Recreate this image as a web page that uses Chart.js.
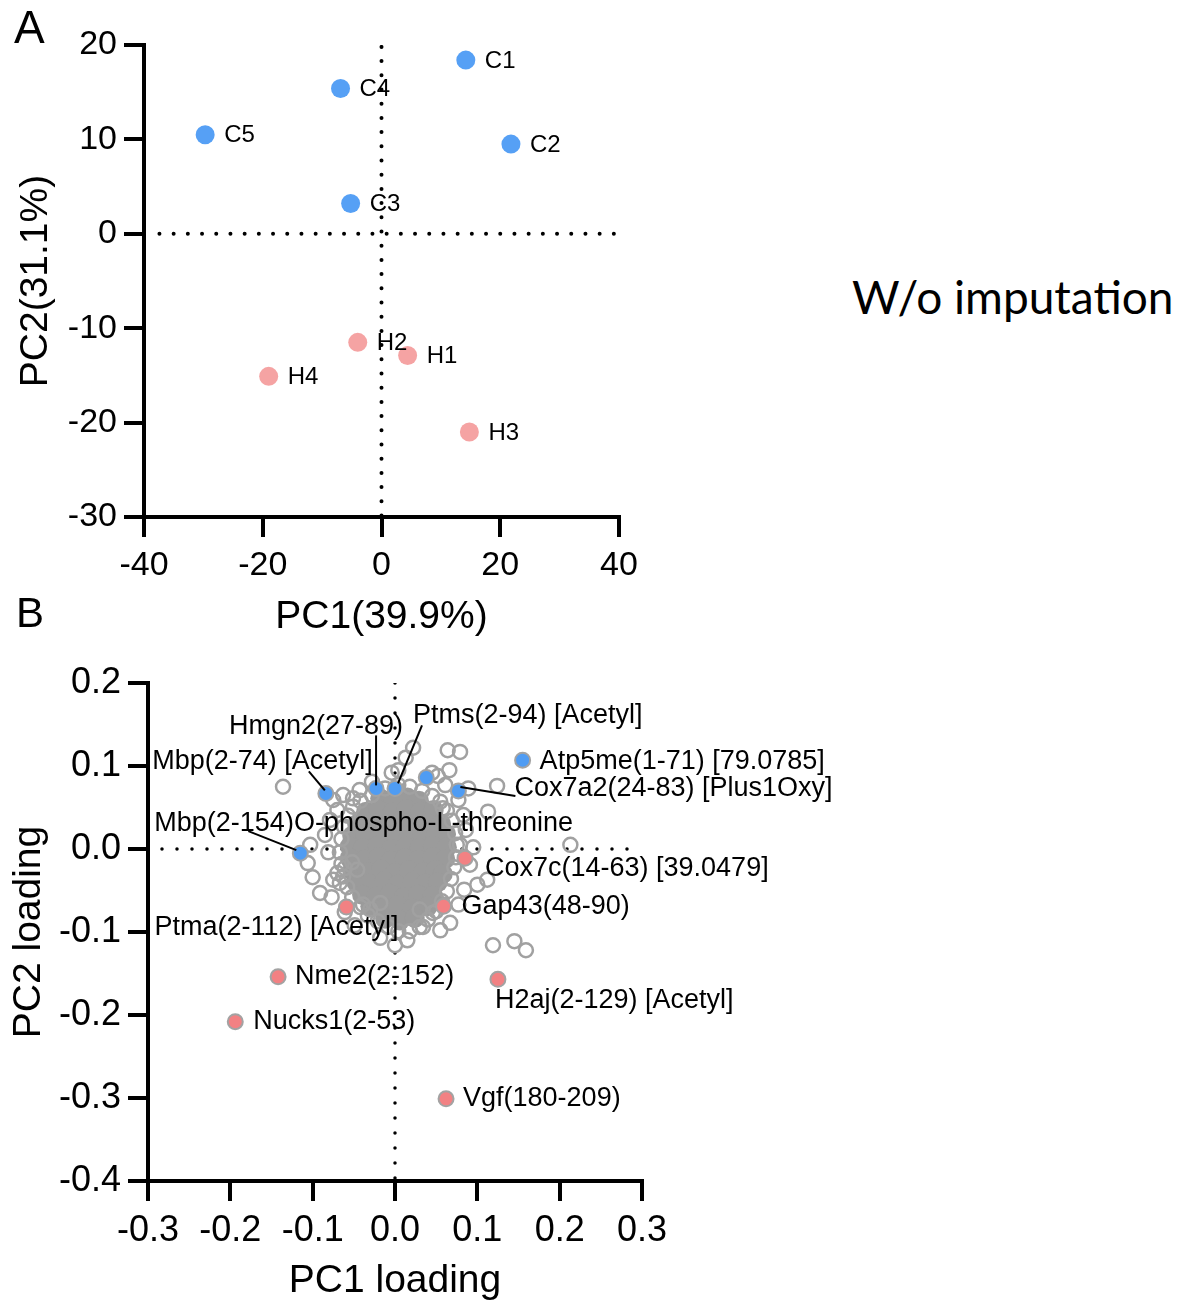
<!DOCTYPE html>
<html>
<head>
<meta charset="utf-8">
<title>PCA without imputation</title>
<script src="https://cdn.jsdelivr.net/npm/chart.js"></script>
<style>
  html, body { margin:0; padding:0; background:#ffffff; }
  body { position:relative; width:1182px; height:1305px; overflow:hidden; }
  canvas { position:absolute; left:0; display:block; }
  #chartA { top:0; }
  #chartB { top:650px; }
  .txt { position:absolute; margin:0; font-family:"Liberation Sans", Arial, sans-serif; color:#000; line-height:1; white-space:nowrap; }
  #panelA { left:14px; top:4px; font-size:46px; }
  #panelB { left:16px; top:592px; font-size:42px; }
  #note { left:852px; top:274px; font-family:Lato, "Open Sans", sans-serif; font-size:46px; }
</style>
</head>
<body>
<canvas id="chartA" width="700" height="650"></canvas>
<canvas id="chartB" width="860" height="655"></canvas>
<div class="txt" id="panelA">A</div>
<div class="txt" id="panelB">B</div>
<div class="txt" id="note">W/o imputation</div>
<script>
// ---------------- Panel A : sample scores ----------------
const ctrlNames = ['C1', 'C2', 'C3', 'C4', 'C5'];
const ctrlPC1   = [14.2, 21.8, -5.2, -6.9, -29.7];
const ctrlPC2   = [18.4, 9.5, 3.2, 15.4, 10.5];
const hNames    = ['H1', 'H2', 'H3', 'H4'];
const hPC1      = [4.4, -4.0, 14.8, -19.0];
const hPC2      = [-12.9, -11.5, -21.0, -15.1];
const xTicksA   = [-40, -20, 0, 20, 40];
const yTicksA   = [-30, -20, -10, 0, 10, 20];
const zeroLineA_x = [-37.4, 39.5];   // extent of dotted y = 0 line
const zeroLineA_y = [19.8, -30];     // extent of dotted x = 0 line

// ---------------- Panel B : loadings ----------------
const upNames = ['Mbp(2-74) [Acetyl]', 'Hmgn2(27-89)', 'Ptms(2-94) [Acetyl]', '', 'Cox7a2(24-83) [Plus1Oxy]', 'Atp5me(1-71) [79.0785]', 'Mbp(2-154)O-phospho-L-threonine'];
const upPC1   = [-0.084, -0.023, 0.000, 0.038, 0.077, 0.155, -0.115];
const upPC2   = [0.067, 0.073, 0.073, 0.086, 0.070, 0.107, -0.005];
const downNames = ['Cox7c(14-63) [39.0479]', 'Gap43(48-90)', 'Ptma(2-112) [Acetyl]', 'Nme2(2-152)', 'H2aj(2-129) [Acetyl]', 'Nucks1(2-53)', 'Vgf(180-209)'];
const downPC1 = [0.085, 0.059, -0.059, -0.142, 0.125, -0.194, 0.062];
const downPC2 = [-0.011, -0.069, -0.070, -0.154, -0.157, -0.208, -0.301];

// other peptides, outer (open rings)
const otherPC1 = [
  -0.012, 0.004, 0.018, 0.033, -0.028, -0.042, 0.045, 0.055, 0.063, 0.069, 0.073, 0.075, 0.074, 0.072, 0.068,
  0.063, 0.057, 0.050, 0.040, 0.030, 0.018, 0.004, -0.008, -0.021, -0.033, -0.042, -0.052, -0.058, -0.063, -0.065,
  -0.067, -0.065, -0.062, -0.057, -0.051,
  -0.136, 0.022, 0.064, 0.079, 0.013, -0.004, 0.066, 0.045, 0.052, 0.089, 0.124, 0.113, 0.058, 0.213, 0.095,
  0.091, 0.112, 0.100, -0.100, -0.091, -0.077, -0.106, -0.081, -0.103, -0.075, -0.063, -0.051, -0.070, 0.004, 0.067,
  0.015, 0.034, 0.119, 0.145, 0.159, -0.070, -0.067, -0.061, -0.046, -0.052, -0.039, -0.030, -0.018, 0.030, 0.046, 0.079,
  -0.079, -0.085, -0.043, -0.028, 0.061, 0.077, 0.083, 0.086, 0.084, 0.077, 0.055, 0.000, -0.018, -0.049, -0.061, -0.075
];
const otherPC2 = [
  0.073, 0.077, 0.075, 0.070, 0.065, 0.058, 0.064, 0.057, 0.046, 0.034, 0.019, 0.005, -0.010, -0.022, -0.036,
  -0.051, -0.063, -0.075, -0.085, -0.094, -0.099, -0.099, -0.094, -0.087, -0.080, -0.070, -0.058, -0.046, -0.033, -0.018,
  -0.004, 0.012, 0.027, 0.040, 0.051,
  0.075, 0.122, 0.119, 0.117, 0.110, 0.092, 0.095, 0.092, 0.088, 0.073, 0.076, 0.045, 0.049, 0.005, 0.002,
  -0.019, -0.037, -0.043, -0.034, -0.053, -0.058, -0.017, -0.004, 0.005, 0.059, 0.065, 0.061, 0.047, 0.095, -0.089,
  -0.110, -0.094, -0.116, -0.111, -0.122, -0.029, -0.041, -0.023, -0.025, -0.016, -0.067, -0.073, -0.065, -0.073, -0.077, 0.005,
  0.035, 0.017, 0.071, 0.081, 0.077, 0.059, 0.041, 0.023, -0.049, -0.067, -0.098, -0.116, -0.107, -0.092, -0.076, -0.037
];
// other peptides, dense core (overlapping so heavily they read as solid grey)
const corePC1 = [
  -0.018, -0.002, 0.015, 0.029,
  -0.035, -0.020, -0.003, 0.014, 0.031, 0.047,
  -0.046, -0.030, -0.012, 0.006, 0.022, 0.040, 0.056,
  -0.052, -0.036, -0.018, -0.001, 0.017, 0.033, 0.049, 0.062,
  -0.055, -0.039, -0.021, -0.004, 0.013, 0.030, 0.046, 0.063,
  -0.055, -0.037, -0.020, -0.005, 0.012, 0.029, 0.046, 0.061,
  -0.052, -0.034, -0.017, 0.000, 0.017, 0.034, 0.049, 0.058,
  -0.047, -0.031, -0.013, 0.003, 0.021, 0.037, 0.052,
  -0.040, -0.023, -0.006, 0.011, 0.028, 0.046,
  -0.030, -0.013, 0.004, 0.021, 0.040,
  -0.012, 0.006, 0.024
];
const corePC2 = [
  0.061, 0.059, 0.062, 0.058,
  0.045, 0.047, 0.044, 0.048, 0.045, 0.047,
  0.030, 0.032, 0.030, 0.033, 0.029, 0.031, 0.030,
  0.016, 0.018, 0.015, 0.017, 0.016, 0.019, 0.016, 0.018,
  0.003, 0.001, 0.004, 0.000, 0.003, 0.001, 0.004, 0.002,
  -0.011, -0.013, -0.010, -0.014, -0.011, -0.013, -0.010, -0.012,
  -0.026, -0.028, -0.025, -0.029, -0.026, -0.028, -0.025, -0.030,
  -0.040, -0.042, -0.039, -0.043, -0.040, -0.042, -0.040,
  -0.055, -0.057, -0.054, -0.058, -0.055, -0.056,
  -0.069, -0.071, -0.068, -0.072, -0.069,
  -0.084, -0.086, -0.083
];
const xTicksB = [-0.3, -0.2, -0.1, 0.0, 0.1, 0.2, 0.3];
const yTicksB = [-0.4, -0.3, -0.2, -0.1, 0.0, 0.1, 0.2];
const zeroLineB_x = [-0.283, 0.295];
const zeroLineB_y = [0.2, -0.4];

// ---------------- helpers & styles ----------------
const FONT = '"Liberation Sans", Arial, Helvetica, sans-serif';
const pts = (xs, ys) => xs.map((x, i) => ({ x: x, y: ys[i] }));

// label placement (pixel offsets from each labelled point)
const labelLayoutB = {
  'Mbp(2-74) [Acetyl]':            { dx: 47,   dy: -32, align: 'right', line: [-17, -22, -1, -3] },
  'Hmgn2(27-89)':                  { dx: 27,   dy: -62, align: 'right', line: [0, -53, 0, -3] },
  'Ptms(2-94) [Acetyl]':           { dx: 18,   dy: -73, align: 'left',  line: [27, -63, 3, -5] },
  'Atp5me(1-71) [79.0785]':        { dx: 17,   dy: 1,   align: 'left' },
  'Cox7a2(24-83) [Plus1Oxy]':      { dx: 56,   dy: -2,  align: 'left',  line: [57, 5, 2, -4] },
  'Mbp(2-154)O-phospho-L-threonine': { dx: -146, dy: -30, align: 'left', line: [-52, -22, -4, -3] },
  'Cox7c(14-63) [39.0479]':        { dx: 20,   dy: 10,  align: 'left' },
  'Gap43(48-90)':                  { dx: 18,   dy: 0,   align: 'left' },
  'Ptma(2-112) [Acetyl]':          { dx: -192, dy: 20,  align: 'left' },
  'Nme2(2-152)':                   { dx: 17,   dy: 0,   align: 'left' },
  'H2aj(2-129) [Acetyl]':          { dx: -3,   dy: 21,  align: 'left' },
  'Nucks1(2-53)':                  { dx: 18,   dy: 0,   align: 'left' },
  'Vgf(180-209)':                  { dx: 17,   dy: 0,   align: 'left' }
};

function makeAxis(c) {
  return {
    type: 'linear', position: c.position,
    min: Math.min.apply(null, c.ticks), max: Math.max.apply(null, c.ticks),
    border: { display: true, color: '#000', width: 4 },
    grid: { display: true, drawOnChartArea: false, drawTicks: true, tickLength: 20, tickWidth: 4, tickColor: '#000', color: '#000', lineWidth: 4 },
    ticks: { color: '#000', font: { family: FONT, size: c.tickSize }, padding: c.tickPad, maxRotation: 0, minRotation: 0, autoSkip: false, callback: c.fmt },
    title: { display: true, text: c.title, color: '#000', font: { family: FONT, size: c.titleSize }, padding: c.titlePad },
    afterBuildTicks: s => { s.ticks = c.ticks.map(v => ({ value: v })); },
    afterFit: s => { if (c.position === 'left') s.width = c.size; else s.height = c.size; }
  };
}
function dotted(data, w, gap, order) {
  return { data: data, showLine: true, borderColor: '#000', borderWidth: w, borderDash: [0, gap], borderCapStyle: 'round', pointRadius: 0, pointHoverRadius: 0, order: order };
}

// ---------------- Chart A ----------------
const labelPluginA = {
  id: 'labelsA',
  afterDatasetsDraw(chart) {
    const ctx = chart.ctx;
    ctx.save();
    ctx.font = '24px ' + FONT;
    ctx.fillStyle = '#000';
    ctx.textAlign = 'left';
    ctx.textBaseline = 'middle';
    [[0, ctrlNames], [1, hNames]].forEach(([di, names]) => {
      chart.getDatasetMeta(di).data.forEach((el, i) => {
        ctx.fillText(names[i], el.x + 19, el.y + 1);
      });
    });
    ctx.restore();
  }
};

new Chart(document.getElementById('chartA'), {
  type: 'scatter',
  data: {
    datasets: [
      { data: pts(ctrlPC1, ctrlPC2), backgroundColor: '#56a0f5', borderWidth: 0, pointRadius: 9.5, pointHoverRadius: 9.5, order: 0 },
      { data: pts(hPC1, hPC2), backgroundColor: '#f5a3a3', borderWidth: 0, pointRadius: 9.5, pointHoverRadius: 9.5, order: 0 },
      dotted([{ x: zeroLineA_x[0], y: 0 }, { x: zeroLineA_x[1], y: 0 }], 4, 14.2, 5),
      dotted([{ x: 0, y: zeroLineA_y[0] }, { x: 0, y: zeroLineA_y[1] }], 4, 14.2, 5)
    ]
  },
  options: {
    responsive: false, animation: false, devicePixelRatio: 1,
    layout: { padding: { left: 0, top: 45, right: 81, bottom: 0 } },
    plugins: { legend: { display: false }, tooltip: { enabled: false } },
    scales: {
      x: makeAxis({ position: 'bottom', ticks: xTicksA, tickSize: 34, tickPad: 8, title: 'PC1(39.9%)', titleSize: 39, titlePad: { top: 0, bottom: 9 }, size: 133, fmt: v => String(v) }),
      y: makeAxis({ position: 'left', ticks: yTicksA, tickSize: 34, tickPad: 7, title: 'PC2(31.1%)', titleSize: 39, titlePad: { top: 13, bottom: 0 }, size: 144, fmt: v => String(v) })
    }
  },
  plugins: [labelPluginA]
});

// ---------------- Chart B ----------------
const labelPluginB = {
  id: 'labelsB',
  afterDatasetsDraw(chart) {
    const ctx = chart.ctx;
    ctx.save();
    ctx.font = '27px ' + FONT;
    ctx.fillStyle = '#000';
    ctx.strokeStyle = '#000';
    ctx.lineWidth = 2;
    ctx.textBaseline = 'middle';
    [[0, upNames], [1, downNames]].forEach(([di, names]) => {
      chart.getDatasetMeta(di).data.forEach((el, i) => {
        const L = labelLayoutB[names[i]];
        if (!L) return;
        if (L.line) {
          ctx.beginPath();
          ctx.moveTo(el.x + L.line[0], el.y + L.line[1]);
          ctx.lineTo(el.x + L.line[2], el.y + L.line[3]);
          ctx.stroke();
        }
        ctx.textAlign = L.align;
        ctx.fillText(names[i], el.x + L.dx, el.y + L.dy);
      });
    });
    ctx.restore();
  }
};

new Chart(document.getElementById('chartB'), {
  type: 'scatter',
  data: {
    datasets: [
      { data: pts(upPC1, upPC2), backgroundColor: '#4f9cf3', borderColor: '#a3a3a3', borderWidth: 2, pointRadius: 7.5, pointHoverRadius: 7.5, order: 0 },
      { data: pts(downPC1, downPC2), backgroundColor: '#f28183', borderColor: '#a3a3a3', borderWidth: 2, pointRadius: 7.5, pointHoverRadius: 7.5, order: 0 },
      { data: pts(otherPC1, otherPC2), backgroundColor: 'rgba(0,0,0,0)', borderColor: '#a1a1a1', borderWidth: 2.5, pointRadius: 7, pointHoverRadius: 7, order: 1 },
      { data: pts(corePC1, corePC2), backgroundColor: '#9b9b9b', borderWidth: 0, pointRadius: 10, pointHoverRadius: 10, order: 2 },
      dotted([{ x: zeroLineB_x[0], y: 0 }, { x: zeroLineB_x[1], y: 0 }], 3.5, 15, 5),
      dotted([{ x: 0, y: zeroLineB_y[0] }, { x: 0, y: zeroLineB_y[1] }], 3.5, 15, 5)
    ]
  },
  options: {
    responsive: false, animation: false, devicePixelRatio: 1,
    layout: { padding: { left: 0, top: 33, right: 218, bottom: 0 } },
    plugins: { legend: { display: false }, tooltip: { enabled: false } },
    scales: {
      x: makeAxis({ position: 'bottom', ticks: xTicksB, tickSize: 36, tickPad: 8, title: 'PC1 loading', titleSize: 39, titlePad: { top: 0, bottom: 0 }, size: 124, fmt: v => v.toFixed(1) }),
      y: makeAxis({ position: 'left', ticks: yTicksB, tickSize: 36, tickPad: 7, title: 'PC2 loading', titleSize: 39, titlePad: { top: 6, bottom: 0 }, size: 148, fmt: v => v.toFixed(1) })
    }
  },
  plugins: [labelPluginB]
});
</script>
</body>
</html>
